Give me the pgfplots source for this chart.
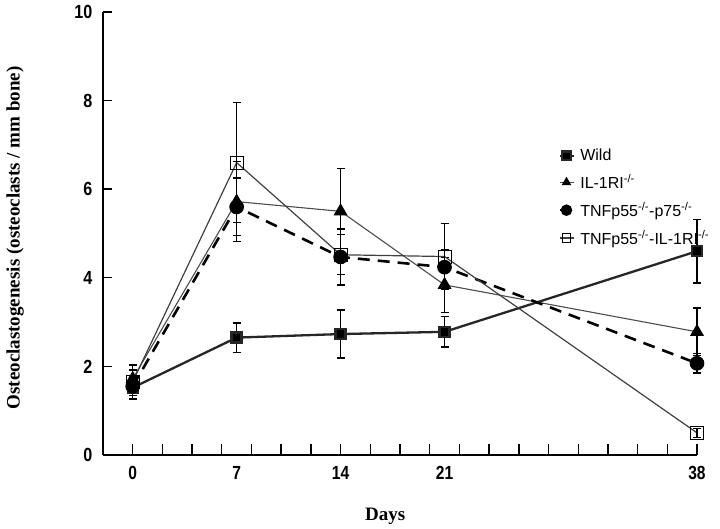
\documentclass[border=0pt]{standalone}
\usepackage{pgfplots}
\pgfplotsset{compat=1.18}
\usepackage{fontspec}
\setmainfont{Liberation Serif}
\setsansfont{Liberation Sans}

\pgfplotstableread{
x y e
0 1.52 0.26
7 2.65 0.33
14 2.73 0.54
21 2.78 0.34
38 4.60 0.72
}\wild
\pgfplotstableread{
x y e
0 1.72 0.20
7 5.72 0.90
14 5.50 0.97
21 3.84 0.62
38 2.78 0.54
}\ilr
\pgfplotstableread{
x y e
0 1.55 0.20
7 5.60 0.65
14 4.47 0.63
21 4.24 0.40
38 2.07 0.22
}\tnfp
\pgfplotstableread{
x y e
0 1.65 0.38
7 6.60 1.35
14 4.52 0.45
21 4.48 0.75
38 0.50 0.10
}\tnfil

\begin{document}
\begin{tikzpicture}
\path[use as bounding box] (-103pt,-74pt) rectangle (617pt,455pt);
\begin{axis}[
  at={(0,0)}, anchor=south west,
  scale only axis, width=594pt, height=443pt,
  xmin=-2, xmax=38, ymin=0, ymax=10,
  axis x line*=bottom, axis y line*=left,
  axis line style={line width=1.6pt},
  xtick={0,7,14,21,38},
  minor xtick={0,2,...,38},
  major x tick style={draw=none},
  ytick={0,2,...,10},
  tick align=inside,
  major tick length=9pt,
  minor tick length=11pt,
  tick style={line width=1.4pt, black},
  /pgf/number format/assume math mode=true,
  xticklabel style={font=\fontsize{19}{20}\sffamily\bfseries, xscale=0.82, yshift=-8pt},
  yticklabel style={font=\fontsize{19}{20}\sffamily\bfseries, xscale=0.85, xshift=-9pt},
  xlabel={Days},
  ylabel={Osteoclastogenesis (osteoclasts / mm bone)},
  xlabel style={font=\fontsize{19}{20}\selectfont\bfseries, at={(axis description cs:0.475,-0.138)}, anchor=center},
  ylabel style={font=\fontsize{19}{20}\selectfont\bfseries, at={(axis description cs:-0.148,0.49)}, anchor=center},
  legend style={at={(axis description cs:0.766,0.694)}, anchor=north west, draw=none, fill=none,
    font=\fontsize{16}{17}\sffamily, row sep=9pt, column sep=4pt, inner sep=0pt,
    nodes={inner sep=1.5pt}},
  legend cell align=left,
  legend image code/.code={\draw[mark repeat=2,mark phase=2,#1] plot coordinates {(0pt,0pt) (7pt,0pt) (14pt,0pt)};},
  legend image post style={mark size=4.4pt},
  error bars/error bar style={line width=1.3pt, black, solid},
  error bars/error mark options={rotate=90, mark size=4pt, line width=1.3pt, black, solid},
  clip=false,
]
\addplot[black!85, line width=2.3pt, mark=square*, mark size=5pt, mark options={solid, fill=black},
  error bars/.cd, y dir=both, y explicit]
  table[x=x, y=y, y error=e] {\wild};
\addlegendentry{Wild}
\addplot[black!70, line width=1.1pt, mark=triangle*, mark size=7pt, mark options={solid, fill=black, draw=black},
  error bars/.cd, y dir=both, y explicit]
  table[x=x, y=y, y error=e] {\ilr};
\addlegendentry{IL-1RI\textsuperscript{-/-}}
\addplot[black, line width=2.6pt, dash pattern=on 12pt off 8pt, mark=*, mark size=6pt, mark options={solid, fill=black},
  error bars/.cd, y dir=both, y explicit]
  table[x=x, y=y, y error=e] {\tnfp};
\addlegendentry{TNFp55\textsuperscript{-/-}-p75\textsuperscript{-/-}}
\addplot[black!75, line width=1.2pt, mark=square, mark size=6.5pt, mark options={solid, fill=white, draw=black, line width=1pt},
  error bars/.cd, y dir=both, y explicit]
  table[x=x, y=y, y error=e] {\tnfil};
\addlegendentry{TNFp55\textsuperscript{-/-}-IL-1RI\textsuperscript{-/-}}
\end{axis}
\end{tikzpicture}
\end{document}
